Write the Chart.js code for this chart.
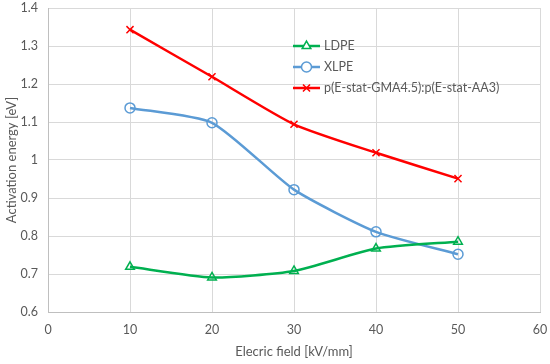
<!DOCTYPE html>
<html>
<head>
<meta charset="utf-8">
<script src="https://cdn.jsdelivr.net/npm/chart.js@4"></script>
<style>
  html, body { margin: 0; padding: 0; background: #fff; }
  #wrap { width: 550px; height: 364px; }
</style>
</head>
<body>
<div id="wrap"><canvas id="chart" width="550" height="364"></canvas></div>
<script>
// dados
const campo = [10, 20, 30, 40, 50]
const ldpe = [0.719, 0.691, 0.708, 0.767, 0.785]
const xlpe = [1.137, 1.098, 0.922, 0.811, 0.752]
const razao = [1.343, 1.219, 1.094, 1.019, 0.951]
const nomes = ['LDPE', 'XLPE', 'p(E-stat-GMA4.5):p(E-stat-AA3)']

const corTexto = '#595959'
const fonte = 'Lato, "Open Sans", sans-serif'

function pontos(valores) {
  return campo.map((x, i) => ({ x: x, y: valores[i] }))
}

// legenda desenhada dentro da área do gráfico
const legendaInterna = {
  id: 'legendaInterna',
  afterDraw(chart) {
    const ctx = chart.ctx
    const x0 = 293, x1 = 320, xt = 324
    const ys = [46, 67, 88]
    chart.data.datasets.forEach((ds, i) => {
      const y = ys[i]
      ctx.save()
      ctx.strokeStyle = ds.borderColor
      ctx.lineWidth = ds.borderWidth
      ctx.beginPath()
      ctx.moveTo(x0, y)
      ctx.lineTo(x1, y)
      ctx.stroke()
      ctx.fillStyle = '#ffffff'
      ctx.lineWidth = ds.pointBorderWidth
      Chart.helpers.drawPoint(ctx, {
        pointStyle: ds.pointStyle,
        radius: ds.pointRadius,
        borderWidth: ds.pointBorderWidth
      }, (x0 + x1) / 2, y)
      ctx.fillStyle = corTexto
      ctx.font = '12.5px ' + fonte
      ctx.textBaseline = 'middle'
      ctx.fillText(ds.label, xt, y)
      ctx.restore()
    })
  }
}

const grafico = new Chart('chart', {
  type: 'line',
  data: {
    datasets: [
      {
        label: nomes[0],
        data: pontos(ldpe),
        borderColor: '#00b050',
        backgroundColor: '#ffffff',
        borderWidth: 2.5,
        pointStyle: 'triangle',
        pointRadius: 5,
        pointBorderWidth: 1.5,
        pointBackgroundColor: 'rgba(255,255,255,0)',
        tension: 0.2
      },
      {
        label: nomes[1],
        data: pontos(xlpe),
        borderColor: '#5b9bd5',
        backgroundColor: '#ffffff',
        borderWidth: 2.5,
        pointStyle: 'circle',
        pointRadius: 5,
        pointBorderWidth: 1.5,
        pointBackgroundColor: 'rgba(255,255,255,0)',
        tension: 0.2
      },
      {
        label: nomes[2],
        data: pontos(razao),
        borderColor: '#ff0000',
        backgroundColor: '#ffffff',
        borderWidth: 2.5,
        pointStyle: 'crossRot',
        pointRadius: 5,
        pointBorderWidth: 1.5,
        tension: 0.2
      }
    ]
  },
  options: {
    responsive: false,
    animation: false,
    layout: { padding: { top: 8, right: 10, left: 0, bottom: 0 } },
    plugins: {
      legend: { display: false },
      tooltip: { enabled: false }
    },
    scales: {
      x: {
        type: 'linear',
        min: 0,
        max: 60,
        ticks: { stepSize: 10, color: corTexto, font: { family: fonte, size: 12.5 }, padding: 10 },
        grid: { color: '#d9d9d9', drawTicks: false },
        border: { color: '#bfbfbf' },
        title: {
          display: true,
          text: 'Elecric field [kV/mm]',
          color: corTexto,
          font: { family: fonte, size: 13 },
          padding: { top: 10 }
        },
        afterFit(scale) {
          scale.height = 52
          scale.paddingLeft = 0
          scale.paddingRight = 0
        }
      },
      y: {
        min: 0.6,
        max: 1.4,
        ticks: {
          stepSize: 0.1,
          color: corTexto,
          font: { family: fonte, size: 12.5 },
          padding: 10,
          callback: v => String(Math.round(v * 10) / 10)
        },
        grid: { color: '#d9d9d9', drawTicks: false },
        border: { color: '#bfbfbf' },
        title: {
          display: true,
          text: 'Activation energy [eV]',
          color: corTexto,
          font: { family: fonte, size: 13 },
          padding: { bottom: 0 }
        },
        afterFit(scale) {
          scale.width = 48
          scale.paddingTop = 0
          scale.paddingBottom = 0
        }
      }
    }
  },
  plugins: [legendaInterna]
})
</script>
</body>
</html>
